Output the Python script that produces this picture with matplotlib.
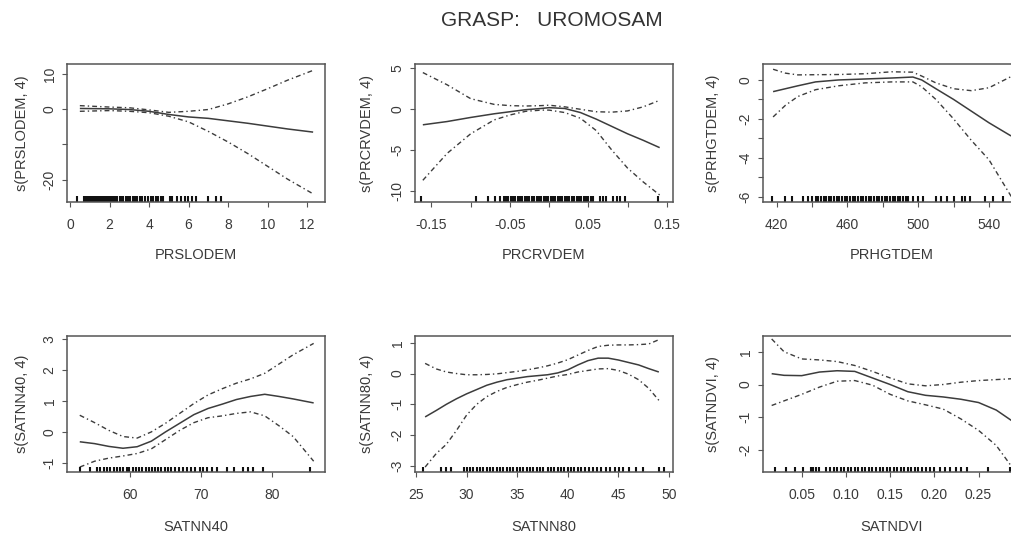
import matplotlib
matplotlib.use("Agg")
import matplotlib.pyplot as plt
import matplotlib.transforms as mtransforms

plt.rcParams['font.family'] = ['Liberation Sans', 'DejaVu Sans']

title = "GRASP:   UROMOSAM"
names = ["PRSLODEM", "PRCRVDEM", "PRHGTDEM", "SATNN40", "SATNN80", "SATNDVI"]

# ---- PRSLODEM ----
x1 = [0.5, 2, 3, 4, 5, 6, 7, 8, 9, 10, 11, 12.3]
fit1 = [0.2, 0.1, -0.1, -0.6, -1.5, -2.2, -2.6, -3.3, -4.0, -4.8, -5.6, -6.5]
up1 = [1.0, 0.6, 0.4, -0.2, -0.9, -0.6, -0.1, 1.5, 3.5, 5.8, 8.2, 11.0]
lo1 = [-0.6, -0.4, -0.6, -1.0, -2.0, -3.6, -6.3, -9.3, -12.6, -16.2, -19.8, -24.0]
rug1 = [0.34, 0.72, 0.8, 0.88, 0.95, 1.02, 1.1, 1.15, 1.2, 1.26, 1.31, 1.37, 1.42,
        1.48, 1.53, 1.6, 1.66, 1.71, 1.77, 1.83, 1.9, 1.96, 2.03, 2.1, 2.16, 2.22,
        2.3, 2.38, 2.55, 2.62, 2.7, 2.85, 2.93, 3.02, 3.2, 3.28, 3.4, 3.55, 3.62,
        3.8, 3.95, 4.1, 4.18, 4.35, 4.45, 4.6, 4.7, 5.05, 5.1, 5.15, 5.42, 5.6,
        5.8, 5.95, 6.15, 6.4, 7.0, 7.4, 7.62]

# ---- PRCRVDEM ----
x2 = [-0.161, -0.13, -0.10, -0.07, -0.05, -0.03, -0.01, 0.0, 0.02, 0.04, 0.06,
      0.08, 0.10, 0.12, 0.141]
fit2 = [-1.9, -1.5, -1.0, -0.55, -0.3, -0.05, 0.1, 0.2, 0.1, -0.4, -1.2, -2.1,
        -3.0, -3.8, -4.7]
up2 = [4.5, 3.0, 1.3, 0.6, 0.45, 0.4, 0.45, 0.5, 0.3, 0.0, -0.3, -0.35, -0.2,
       0.3, 1.1]
lo2 = [-8.7, -5.4, -3.0, -1.3, -0.7, -0.25, -0.1, -0.1, -0.4, -1.1, -2.6, -5.0,
       -7.2, -8.9, -10.5]
rug2 = [-0.163, -0.093, -0.078, -0.069, -0.063, -0.058, -0.055, -0.052, -0.049,
        -0.046, -0.043, -0.04, -0.037, -0.034, -0.031, -0.028, -0.025, -0.022,
        -0.019, -0.016, -0.013, -0.01, -0.007, -0.004, -0.001, 0.002, 0.005,
        0.008, 0.011, 0.014, 0.017, 0.02, 0.023, 0.026, 0.029, 0.032, 0.035,
        0.038, 0.041, 0.044, 0.047, 0.05, 0.053, 0.056, 0.065, 0.069, 0.073,
        0.082, 0.086, 0.09, 0.097, 0.139]

# ---- PRHGTDEM ----
x3 = [418, 425, 432, 442, 455, 470, 485, 497, 502, 510, 520, 530, 540, 552, 557]
fit3 = [-0.6, -0.45, -0.3, -0.1, 0.0, 0.05, 0.1, 0.15, 0.0, -0.45, -1.0, -1.6,
        -2.2, -2.85, -3.05]
up3 = [0.55, 0.35, 0.26, 0.27, 0.28, 0.32, 0.42, 0.4, 0.2, -0.15, -0.45, -0.55,
       -0.4, 0.15, 0.35]
lo3 = [-1.9, -1.3, -0.85, -0.5, -0.3, -0.15, -0.1, -0.1, -0.35, -1.0, -2.0, -3.1,
       -4.1, -5.9, -6.6]
rug3 = [417.2, 424.7, 428.5, 435, 437.5, 440, 442, 443.5, 445, 446.5, 448, 449.5,
        451, 452.5, 454, 455.5, 457, 458.5, 460, 461.5, 463, 464.5, 466, 467.5,
        469, 470.5, 472, 473.5, 475, 476.5, 478, 479.5, 481, 482.5, 484, 485.5,
        487, 488.5, 490, 491.5, 493, 494.5, 497, 500, 503, 510, 513, 516, 520,
        524.6, 526.5, 529.3, 537.7, 542.4, 548]

# ---- SATNN40 ----
x4 = [52.9, 55, 57, 59, 61, 63, 65, 67, 69, 71, 73, 75, 77, 79, 81, 83, 85.9]
fit4 = [-0.32, -0.38, -0.47, -0.53, -0.48, -0.3, 0.0, 0.28, 0.56, 0.76, 0.9,
        1.05, 1.15, 1.22, 1.15, 1.07, 0.94]
up4 = [0.54, 0.3, 0.05, -0.15, -0.2, 0.0, 0.28, 0.6, 0.92, 1.2, 1.4, 1.58, 1.72,
       1.9, 2.2, 2.5, 2.87]
lo4 = [-1.14, -0.95, -0.85, -0.78, -0.7, -0.55, -0.25, 0.05, 0.3, 0.46, 0.52,
       0.6, 0.65, 0.52, 0.2, -0.15, -0.95]
rug4 = [52.9, 54.3, 55.3, 55.8, 56.3, 56.8, 57.2, 57.7, 58.1, 58.6, 59.0, 59.5,
        59.9, 60.4, 60.8, 61.3, 61.7, 62.2, 62.6, 63.1, 63.5, 64.0, 64.4, 64.9,
        65.3, 65.8, 66.4, 66.9, 67.5, 68.1, 68.6, 69.2, 69.8, 70.3, 70.9, 71.5,
        72.2, 73.7, 74.6, 76.0, 76.7, 77.4, 78.8, 85.4]

# ---- SATNN80 ----
x5 = [25.9, 27, 28, 29, 30, 31, 32, 33, 34, 35, 36, 37, 38, 39, 40, 41, 42, 43,
      44, 45, 46, 47, 48, 49]
fit5 = [-1.41, -1.2, -1.0, -0.82, -0.66, -0.52, -0.38, -0.28, -0.2, -0.15, -0.1,
        -0.07, -0.04, 0.02, 0.12, 0.28, 0.42, 0.5, 0.5, 0.44, 0.36, 0.28, 0.16,
        0.05]
up5 = [0.33, 0.15, 0.05, 0.0, -0.04, -0.04, -0.03, -0.01, 0.03, 0.07, 0.12, 0.18,
       0.25, 0.34, 0.45, 0.6, 0.75, 0.88, 0.92, 0.93, 0.93, 0.94, 0.96, 1.1]
lo5 = [-3.04, -2.6, -2.3, -1.85, -1.35, -1.0, -0.75, -0.58, -0.45, -0.36, -0.28,
       -0.22, -0.15, -0.08, -0.03, 0.05, 0.1, 0.15, 0.16, 0.1, -0.02, -0.2,
       -0.48, -0.87]
rug5 = [25.7, 27.5, 28.0, 28.5, 29.7, 30.0, 30.3, 30.6, 31.0, 31.3, 31.6, 32.0,
        32.3, 32.6, 33.0, 33.3, 33.6, 34.0, 34.3, 34.6, 35.0, 35.3, 35.6, 36.0,
        36.3, 36.6, 37.0, 37.3, 37.6, 38.0, 38.3, 38.6, 39.0, 39.3, 39.6, 40.0,
        40.3, 40.6, 41.0, 41.3, 41.7, 42.1, 42.5, 42.9, 43.3, 43.8, 44.2, 44.7,
        45.1, 45.5, 46.1, 46.7, 47.4, 49.0, 49.5]

# ---- SATNDVI ----
x6 = [0.016, 0.03, 0.05, 0.07, 0.09, 0.11, 0.13, 0.15, 0.17, 0.19, 0.21, 0.23,
      0.25, 0.27, 0.29]
fit6 = [0.33, 0.28, 0.27, 0.38, 0.42, 0.4, 0.2, 0.0, -0.22, -0.33, -0.38, -0.45,
        -0.55, -0.78, -1.15]
up6 = [1.39, 1.0, 0.78, 0.75, 0.7, 0.58, 0.4, 0.2, 0.02, -0.04, 0.0, 0.07, 0.12,
       0.15, 0.18]
lo6 = [-0.64, -0.5, -0.3, -0.08, 0.1, 0.12, -0.02, -0.3, -0.5, -0.62, -0.75,
       -1.05, -1.4, -1.86, -2.6]
rug6 = [0.0195, 0.0327, 0.042, 0.052, 0.06, 0.063, 0.066, 0.069, 0.078, 0.082,
        0.086, 0.09, 0.094, 0.098, 0.102, 0.106, 0.11, 0.114, 0.118, 0.122,
        0.126, 0.13, 0.134, 0.138, 0.142, 0.146, 0.15, 0.154, 0.158, 0.162,
        0.166, 0.17, 0.174, 0.178, 0.182, 0.186, 0.19, 0.195, 0.2, 0.206, 0.212,
        0.218, 0.224, 0.23, 0.237, 0.261, 0.286]

xticks = [[0, 2, 4, 6, 8, 10, 12],
          [-0.15, -0.10, -0.05, 0.0, 0.05, 0.10, 0.15],
          [420, 440, 460, 480, 500, 520, 540],
          [60, 70, 80],
          [25, 30, 35, 40, 45, 50],
          [0.05, 0.10, 0.15, 0.20, 0.25]]
xticklabels = [["0", "2", "4", "6", "8", "10", "12"],
               ["-0.15", "", "-0.05", "", "0.05", "", "0.15"],
               ["420", "", "460", "", "500", "", "540"],
               ["60", "70", "80"],
               ["25", "30", "35", "40", "45", "50"],
               ["0.05", "0.10", "0.15", "0.20", "0.25"]]
yticks = [[-20, -10, 0, 10],
          [-10, -5, 0, 5],
          [-6, -5, -4, -3, -2, -1, 0],
          [-1, 0, 1, 2, 3],
          [-3, -2, -1, 0, 1],
          [-2, -1, 0, 1]]
yticklabels = [["-20", "", "0", "10"],
               ["-10", "-5", "0", "5"],
               ["-6", "", "-4", "", "-2", "", "0"],
               ["-1", "0", "1", "2", "3"],
               ["-3", "-2", "-1", "0", "1"],
               ["-2", "-1", "0", "1"]]
xlims = [(-0.15, 12.9), (-0.171, 0.158), (412.3, 558.1),
         (51.1, 87.5), (24.9, 50.4), (0.0062, 0.298)]
ylims = [(-26.3, 12.8), (-11.36, 5.55), (-6.27, 0.82),
         (-1.3, 3.11), (-3.2, 1.22), (-2.67, 1.48)]

xs = [x1, x2, x3, x4, x5, x6]
fits = [fit1, fit2, fit3, fit4, fit5, fit6]
ups = [up1, up2, up3, up4, up5, up6]
los = [lo1, lo2, lo3, lo4, lo5, lo6]
rugs = [rug1, rug2, rug3, rug4, rug5, rug6]

W, H = 1012, 539
fig = plt.figure(figsize=(W / 100, H / 100), dpi=100)
fig.patch.set_facecolor("white")

lefts = [67, 415, 763]
rows = [(64, 202), (336, 472)]
ylab_off = [45, 48, 50]
xlab_off = [53, 55]

txt = "#3a3a3a"
edge = "#555555"
dashdot = (0, (3.5, 2.2, 1.0, 2.2))

for i in range(6):
    r, c = divmod(i, 3)
    top, bot = rows[r]
    w = 258
    h = bot - top
    ax = fig.add_axes([lefts[c] / W, 1 - bot / H, w / W, h / H])
    ax.plot(xs[i], fits[i], color="#3c3c3c", lw=1.1, solid_capstyle="butt")
    ax.plot(xs[i], ups[i], color="#3c3c3c", lw=1.0, linestyle=dashdot)
    ax.plot(xs[i], los[i], color="#3c3c3c", lw=1.0, linestyle=dashdot)
    # rug along the bottom edge
    trans = mtransforms.blended_transform_factory(ax.transData, ax.transAxes)
    ax.vlines(rugs[i], 0, 0.04, transform=trans, color="#111111", lw=1.5)
    ax.set_xlim(*xlims[i])
    ax.set_ylim(*ylims[i])
    ax.set_xticks(xticks[i])
    ax.set_xticklabels(xticklabels[i])
    ax.set_yticks(yticks[i])
    ax.set_yticklabels(yticklabels[i], rotation=90, va="center")
    ax.tick_params(axis="both", direction="out", length=3.5, width=0.8,
                   color=edge, labelsize=10, labelcolor=txt)
    ax.tick_params(axis="x", pad=8)
    ax.tick_params(axis="y", pad=4)
    for s in ax.spines.values():
        s.set_color(edge)
        s.set_linewidth(1.1)
    ax.set_xlabel(names[i], fontsize=10.5, color=txt)
    ax.set_ylabel("s(%s, 4)" % names[i], fontsize=10.5, color=txt)
    ax.xaxis.set_label_coords(0.5, -xlab_off[r] / h)
    ax.xaxis.label.set_va("center")
    ax.yaxis.set_label_coords(-ylab_off[c] / w, 0.5)
    ax.yaxis.label.set_va("center")

fig.text(552 / W, 1 - 20 / H, title, ha="center", va="center",
         fontsize=15, color="#333333")

fig.savefig("out.png", dpi=100)
